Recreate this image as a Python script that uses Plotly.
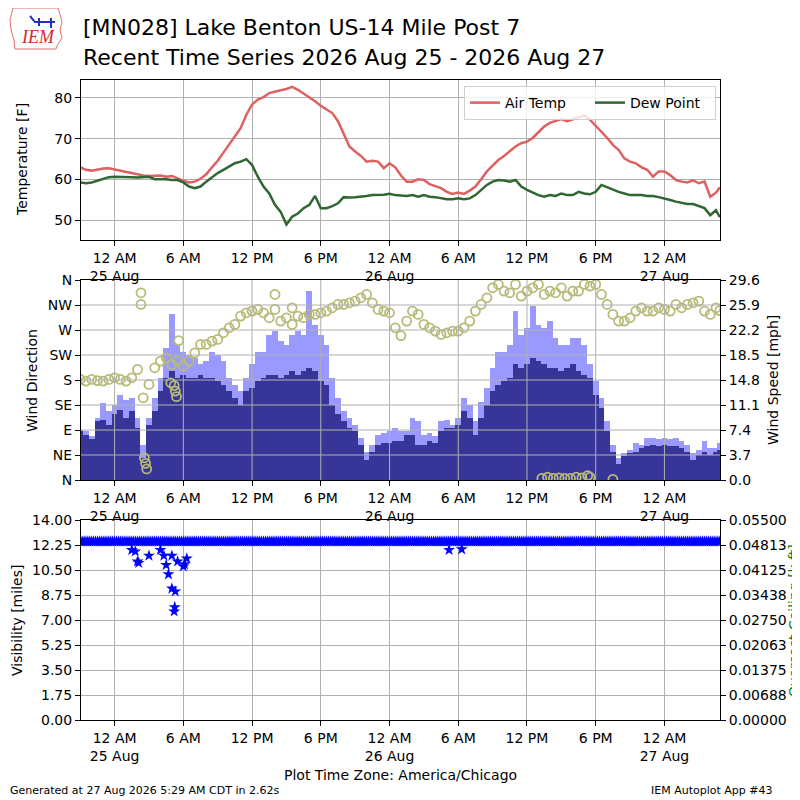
import pandas as pd
import plotly.graph_objects as go

# observations every 30 minutes starting 24 Aug 21:00 CDT, plus the last report
times = list(pd.date_range("2026-08-24 21:00", periods=112, freq="30min")) + [
    pd.Timestamp("2026-08-27 04:50")
]

air_temp = [
    63.0, 62.4, 62.2, 62.5, 62.7, 62.8, 62.5, 62.2, 61.8, 61.6, 61.3, 61.0,
    60.9, 61.0, 61.0, 60.7, 60.9, 60.3, 59.7, 59.3, 59.5, 60.2, 61.3, 63.0,
    64.6, 66.6, 68.5, 70.6, 72.6, 75.9, 78.4, 79.6, 80.2, 81.2, 81.6, 81.9,
    82.2, 82.7, 82.0, 81.1, 80.0, 79.2, 78.1, 77.3, 76.3, 74.3, 71.0, 68.1,
    66.9, 65.8, 64.4, 64.6, 64.4, 62.8, 64.0, 63.0, 61.0, 59.5, 59.5, 60.1,
    59.9, 58.9, 58.4, 57.9, 57.0, 56.5, 56.8, 56.5, 57.3, 58.3, 60.1, 62.0,
    63.4, 64.8, 65.8, 66.9, 68.1, 68.9, 69.3, 70.2, 71.6, 73.0, 73.9, 74.3,
    74.8, 74.3, 74.8, 75.3, 75.7, 74.7, 73.2, 71.8, 70.2, 68.5, 67.3, 65.2,
    64.4, 64.0, 63.0, 62.4, 60.7, 62.0, 62.0, 61.1, 59.9, 59.5, 59.3, 59.8,
    59.1, 59.5, 55.8, 56.8, 58.1,
]
dew_point = [
    59.3, 59.1, 59.3, 59.7, 60.1, 60.6, 60.7, 60.7, 60.6, 60.6, 60.5, 60.6,
    60.7, 60.1, 60.1, 60.1, 59.9, 59.9, 59.3, 58.3, 57.9, 58.3, 59.5, 60.6,
    61.6, 62.4, 63.2, 64.0, 64.4, 65.0, 63.6, 60.7, 58.3, 56.6, 53.8, 52.1,
    49.0, 50.9, 51.7, 53.0, 53.8, 56.0, 53.0, 53.0, 53.5, 54.2, 55.7, 55.6,
    55.7, 55.8, 56.0, 56.2, 56.2, 56.3, 56.5, 56.2, 56.1, 56.0, 56.2, 55.8,
    56.2, 55.8, 55.7, 55.4, 55.2, 55.2, 55.4, 55.2, 55.4, 56.2, 57.5, 58.7,
    59.5, 59.9, 59.8, 59.5, 59.9, 58.3, 57.5, 56.8, 56.2, 55.8, 56.2, 56.0,
    56.6, 56.2, 56.2, 57.0, 56.6, 56.4, 57.0, 58.7, 58.1, 57.6, 57.0, 56.6,
    56.2, 56.2, 56.2, 56.0, 56.0, 55.7, 55.4, 55.0, 54.6, 54.3, 54.0, 54.0,
    53.5, 53.0, 51.3, 52.5, 50.8,
]
wind_speed = [
    7.2, 6.7, 6.0, 8.7, 8.9, 8.2, 9.7, 10.4, 9.2, 10.2, 7.7, 3.3,
    8.2, 10.2, 13.1, 15.1, 16.1, 15.1, 15.6, 15.1, 15.1, 15.6, 15.1, 15.1,
    14.6, 14.1, 13.1, 12.1, 11.1, 13.1, 13.6, 14.6, 15.1, 15.6, 15.6, 15.1,
    15.6, 16.1, 15.6, 16.1, 16.6, 16.1, 14.6, 14.1, 11.1, 9.7, 8.7, 7.7,
    7.2, 5.2, 3.0, 4.2, 5.2, 5.5, 5.5, 5.7, 5.7, 6.7, 6.7, 5.2,
    5.2, 5.7, 5.5, 7.2, 7.7, 7.7, 8.2, 10.2, 9.2, 6.7, 9.2, 11.1,
    13.1, 14.1, 14.6, 15.1, 17.1, 16.6, 17.1, 18.1, 17.6, 17.1, 16.6, 16.6,
    16.1, 16.6, 17.1, 16.1, 15.6, 15.1, 12.6, 10.7, 7.2, 4.2, 2.3, 3.5,
    4.0, 4.2, 4.7, 5.0, 5.2, 5.0, 5.2, 5.0, 5.0, 4.7, 4.2, 3.0,
    3.7, 4.2, 3.7, 4.2, 4.5,
]
wind_gust = [
    7.4, 7.2, 6.5, 9.2, 11.4, 10.2, 11.1, 12.6, 11.9, 12.1, 9.2, 5.2,
    9.2, 12.1, 15.1, 19.5, 24.5, 20.0, 19.0, 18.5, 18.1, 17.1, 17.6, 19.0,
    18.5, 17.6, 15.1, 14.1, 13.1, 15.1, 17.1, 19.0, 19.0, 21.5, 22.0, 20.5,
    20.0, 21.5, 22.0, 21.5, 27.9, 23.0, 21.5, 20.0, 15.1, 12.1, 10.2, 9.2,
    8.2, 6.2, 4.2, 5.2, 6.7, 7.0, 7.2, 7.7, 7.2, 7.2, 9.2, 8.7,
    6.7, 7.0, 6.5, 8.7, 8.9, 8.2, 9.2, 12.1, 11.1, 8.7, 11.6, 13.6,
    16.6, 19.0, 19.0, 20.0, 25.0, 21.5, 22.5, 25.7, 23.0, 22.5, 23.5, 21.0,
    20.0, 20.0, 21.0, 21.0, 20.0, 17.1, 14.6, 12.1, 8.7, 5.2, 3.3, 4.0,
    4.5, 5.5, 5.2, 6.2, 6.2, 6.0, 6.2, 6.0, 6.2, 5.7, 5.2, 4.0,
    4.5, 5.7, 4.7, 4.7, 5.5,
]
wind_dir = [
    181, 178, 181, 179, 178, 181, 184, 181, 178, 184, 199, 148,
    172, 202, 214, 220, 208, 214, 205, 214, 229, 244, 244, 250,
    253, 265, 274, 280, 295, 301, 304, 307, 301, 292, 307, 286,
    292, 280, 295, 292, 298, 298, 301, 304, 310, 316, 316, 319,
    322, 328, 334, 319, 307, 304, 301, 274, 260, 286, 304, 298,
    280, 274, 268, 262, 265, 268, 268, 274, 286, 304, 316, 328,
    346, 352, 340, 337, 352, 331, 340, 346, 352, 334, 340, 337,
    346, 331, 340, 340, 352, 349, 352, 334, 316, 298, 286, 286,
    292, 304, 310, 304, 304, 310, 307, 304, 316, 310, 316, 319,
    322, 304, 298, 310, 305,
]
# scattered extra direction reports (hours after 25 Aug 00:00, degrees)
extra_dir_hours = [2.3, 2.3, 2.6, 2.7, 2.8, 4.9, 5.2, 5.3, 5.4, 5.6, 14.0, 15.5,
                   37.3, 37.8, 38.3, 38.8, 39.3, 39.8, 40.3, 40.8, 41.3, 41.5, 43.5]
extra_dir_deg = [337, 316, 40, 30, 20, 175, 170, 160, 150, 251, 334, 310,
                 3, 5, 3, 4, 3, 3, 5, 4, 8, 5, 1]

# visibility is reported every 10 minutes and sits at 12.5 mi nearly throughout
vis_times = pd.date_range("2026-08-24 21:00", "2026-08-27 04:50", freq="10min")
visibility = [12.5] * len(vis_times)
low_vis_hours = [1.5, 1.8, 2.0, 2.1, 3.0, 4.0, 4.3, 4.5, 4.7, 5.0, 5.0, 5.2,
                 5.25, 5.3, 5.5, 6.0, 6.1, 6.3, 29.2, 30.3]
low_vis = [11.9, 11.8, 11.1, 11.0, 11.5, 11.9, 11.5, 10.85, 10.2, 9.2, 11.5, 7.6,
           7.9, 9.0, 11.1, 10.75, 10.9, 11.3, 11.9, 11.95]

tick_times = pd.date_range("2026-08-25 00:00", "2026-08-27 00:00", freq="6h")
tick_text = ["12 AM<br>25 Aug", "6 AM", "12 PM", "6 PM", "12 AM<br>26 Aug",
             "6 AM", "12 PM", "6 PM", "12 AM<br>27 Aug"]
dir_ticks = [0, 45, 90, 135, 180, 225, 270, 315, 360]
dir_labels = ["N", "NE", "E", "SE", "S", "SW", "W", "NW", "N"]

base = pd.Timestamp("2026-08-25 00:00")
extra_dir_times = [base + pd.Timedelta(hours=h) for h in extra_dir_hours]
low_vis_times = [base + pd.Timedelta(hours=h) for h in low_vis_hours]

FONT = "DejaVu Sans"
GRID = "#b0b0b0"
x_range = ["2026-08-24 21:04", "2026-08-27 04:51"]

fig = go.Figure()

fig.add_trace(go.Scatter(x=times, y=air_temp, mode="lines", name="Air Temp",
                         line={"color": "#df6060", "width": 2.5},
                         xaxis="x", yaxis="y"))
fig.add_trace(go.Scatter(x=times, y=dew_point, mode="lines", name="Dew Point",
                         line={"color": "#2f6632", "width": 2.5},
                         xaxis="x", yaxis="y"))

fig.add_trace(go.Bar(x=times, y=wind_gust, width=1800000, showlegend=False,
                     marker={"color": "#9999ff", "line": {"width": 0}},
                     xaxis="x2", yaxis="y2"))
fig.add_trace(go.Bar(x=times, y=wind_speed, width=1800000, showlegend=False,
                     marker={"color": "#373698", "line": {"width": 0}},
                     xaxis="x2", yaxis="y2"))
fig.add_trace(go.Scatter(x=times + extra_dir_times, y=wind_dir + extra_dir_deg,
                         mode="markers", showlegend=False,
                         marker={"symbol": "circle-open", "size": 9,
                                 "color": "#b8ba78", "line": {"width": 1.8}},
                         xaxis="x2", yaxis="y3"))

fig.add_trace(go.Scatter(x=list(vis_times) + low_vis_times, y=visibility + low_vis,
                         mode="markers", showlegend=False,
                         marker={"symbol": "star", "size": 9, "color": "#0000ff",
                                 "line": {"width": 0}},
                         xaxis="x3", yaxis="y4"))
fig.add_trace(go.Scatter(x=[], y=[], mode="markers", showlegend=False,
                         xaxis="x3", yaxis="y5"))

xcommon = dict(type="date", range=x_range, tickvals=tick_times, ticktext=tick_text,
               showgrid=True, gridcolor=GRID, gridwidth=1, showline=True,
               linecolor="black", linewidth=1, mirror=True, ticks="outside",
               ticklen=5, tickcolor="black", tickfont={"size": 14, "color": "black"})
ycommon = dict(showline=True, linecolor="black", linewidth=1, ticks="outside",
               ticklen=5, tickcolor="black", tickfont={"size": 14, "color": "black"},
               zeroline=False)

# the page adds an 8 px body margin, so the figure is 792 px and margins are trimmed
fig.update_layout(
    width=792, height=792,
    margin={"l": 73, "r": 80, "t": 72, "b": 80},
    paper_bgcolor="white", plot_bgcolor="white",
    font={"family": FONT, "color": "black"},
    barmode="overlay", bargap=0,
    xaxis=dict(xcommon, anchor="y"),
    xaxis2=dict(xcommon, anchor="y2", showgrid=False),
    xaxis3=dict(xcommon, anchor="y4"),
    yaxis=dict(ycommon, domain=[0.75, 1.0], range=[45.2, 84.4], dtick=10,
               showgrid=True, gridcolor=GRID, mirror=True),
    yaxis2=dict(ycommon, domain=[0.375, 0.6875], range=[0, 29.6], side="right",
                tickvals=[0, 3.7, 7.4, 11.1, 14.8, 18.5, 22.2, 25.9, 29.6],
                tickformat=".1f", showgrid=False, anchor="x2"),
    yaxis3=dict(ycommon, range=[0, 360], tickvals=dir_ticks, ticktext=dir_labels,
                overlaying="y2", side="left", anchor="x2", showgrid=False),
    yaxis4=dict(ycommon, domain=[0, 0.3125], range=[0, 14], dtick=1.75,
                tickformat=".2f", showgrid=True, gridcolor=GRID, anchor="x3"),
    yaxis5=dict(ycommon, range=[0, 0.055], dtick=0.006875, tickformat=".5f",
                overlaying="y4", side="right", anchor="x3", showgrid=False),
    legend=dict(orientation="h", x=0.9937, xanchor="right", y=0.9906, yanchor="top",
                font={"size": 14}, bgcolor="rgba(255,255,255,0.8)",
                bordercolor="#d0d0d0", borderwidth=1, itemwidth=30,
                entrywidth=80, entrywidthmode="pixels"),
)

# grid of the wind panel is drawn over the bars, as in the source
shapes = []
for d in dir_ticks[1:-1]:
    shapes.append(dict(type="line", xref="x2 domain", yref="y3", x0=0, x1=1, y0=d, y1=d,
                       line={"color": GRID, "width": 1}, layer="above"))
for t in tick_times:
    shapes.append(dict(type="line", xref="x2", yref="y3 domain", x0=t, x1=t, y0=0, y1=1,
                       line={"color": GRID, "width": 1}, layer="above"))

# IEM logo: rough state outline and vane
shapes.append(dict(type="path", xref="paper", yref="paper",
                   path="M -0.1064 1.1125 L -0.0360 1.1125 L -0.0329 1.1031 L -0.0297 1.0906 "
                        "L -0.0329 1.0781 L -0.0297 1.0656 L -0.0360 1.0563 L -0.0391 1.0484 "
                        "L -0.1033 1.0484 L -0.1049 1.0625 L -0.1095 1.0781 L -0.1111 1.0938 Z",
                   line={"color": "#e07070", "width": 1}))
shapes.append(dict(type="path", xref="paper", yref="paper",
                   path="M -0.0798 1.1000 L -0.0720 1.0906 L -0.0407 1.0906 "
                        "M -0.0657 1.0969 L -0.0657 1.0844 M -0.0469 1.0969 L -0.0469 1.0813",
                   line={"color": "#2030c0", "width": 2}))
fig.update_layout(shapes=shapes)

notes = [
    dict(text="[MN028] Lake Benton US-14 Mile Post 7", x=0, y=1.0813, size=22, xanchor="left"),
    dict(text="Recent Time Series 2026 Aug 25 - 2026 Aug 27", x=0, y=1.0359, size=22, xanchor="left"),
    dict(text="Temperature [F]", x=-0.0923, y=0.875, size=14, angle=-90),
    dict(text="Wind Direction", x=-0.0767, y=0.53125, size=14, angle=-90),
    dict(text="Wind Speed [mph]", x=1.0829, y=0.53125, size=14, angle=-90),
    dict(text="Visibility [miles]", x=-0.1002, y=0.15625, size=14, angle=-90),
    dict(text="Overcast Ceiling [k ft]", x=1.1158, y=0.15625, size=14, angle=-90, color="green"),
    dict(text="Plot Time Zone: America/Chicago", x=0.5, y=-0.0859, size=14),
    dict(text="Generated at 27 Aug 2026 5:29 AM CDT in 2.62s", x=-0.1142, y=-0.1109, size=11,
         xanchor="left"),
    dict(text="IEM Autoplot App #43", x=1.0860, y=-0.1109, size=11, xanchor="right"),
    dict(text="<i>IEM</i>", x=-0.068, y=1.067, size=18, color="#d42a2a", family="Liberation Serif"),
]
for n in notes:
    fig.add_annotation(text=n["text"], xref="paper", yref="paper", x=n["x"], y=n["y"],
                       xanchor=n.get("xanchor", "center"), yanchor="middle",
                       textangle=n.get("angle", 0), showarrow=False,
                       font={"size": n["size"], "color": n.get("color", "black"),
                             "family": n.get("family", FONT)})

fig.write_html("out.html")
